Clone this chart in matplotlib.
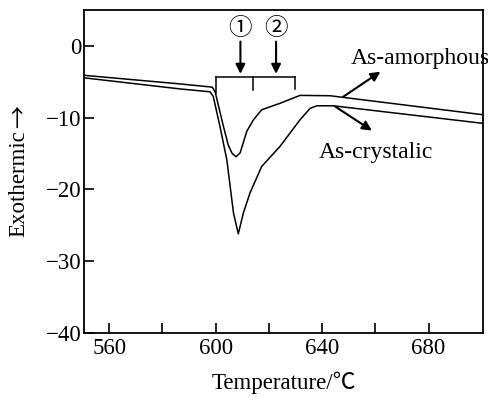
import matplotlib.pyplot as plt
import numpy as np

plt.rcParams['font.family'] = ['Liberation Serif', 'Noto Sans CJK SC', 'DejaVu Sans']

# As-amorphous DSC trace (upper curve, shallow peak)
amor_t = [550.5, 586.6, 598.7, 599.8, 602.9, 604.7, 606.2, 607.7, 609.2, 611.7,
          614.2, 617.3, 624.2, 631.7, 643.0, 700.5]
amor_q = [-4.1, -5.3, -5.75, -6.4, -11.2, -13.8, -15.0, -15.45, -14.9, -11.9,
          -10.3, -8.9, -8.0, -6.9, -6.95, -9.6]

# As-crystalic DSC trace (lower curve, deep peak)
cryst_t = [550.5, 586.6, 597.9, 599.1, 601.6, 604.2, 606.7, 608.5, 610.4, 612.9,
           617.3, 624.2, 631.7, 635.5, 638.0, 644.2, 700.5]
cryst_q = [-4.45, -6.0, -6.4, -7.05, -11.2, -15.9, -23.3, -26.2, -23.3, -20.5,
           -16.8, -14.0, -10.3, -8.7, -8.35, -8.35, -10.8]

# bracket marking stages 1 and 2
brk_x = [600.1, 614.2, 629.7]
brk_y = -4.35
brk_end = [-6.5, -6.1, -6.0]
stage_labels = ['①', '②']
stage_x = [609.3, 622.7]

fig = plt.figure(figsize=(4.88, 4.01), dpi=100)
ax = fig.add_axes([0.172, 0.17, 0.818, 0.805])

ax.plot(amor_t, amor_q, color='black', lw=1.1)
ax.plot(cryst_t, cryst_q, color='black', lw=1.1)

ax.plot([brk_x[0], brk_x[-1]], [brk_y, brk_y], color='black', lw=1.1)
for bx, be in zip(brk_x, brk_end):
    ax.plot([bx, bx], [brk_y, be], color='black', lw=1.1)

arrow = dict(arrowstyle='-|>', color='black', lw=1.5, mutation_scale=14, shrinkA=0, shrinkB=0)
for lab, sx in zip(stage_labels, stage_x):
    ax.annotate('', xy=(sx, -3.9), xytext=(sx, 0.6), arrowprops=arrow)
    ax.text(sx, 2.4, lab, ha='center', va='center', fontsize=17,
            family=['Noto Sans CJK SC', 'DejaVu Sans'], fontweight='light')

ax.annotate('', xy=(661.9, -3.6), xytext=(647.9, -7.1), arrowprops=arrow)
ax.text(650.6, -1.7, 'As-amorphous', ha='left', va='center', fontsize=17, clip_on=False)
ax.annotate('', xy=(658.7, -11.8), xytext=(644.9, -8.45), arrowprops=arrow)
ax.text(638.6, -14.9, 'As-crystalic', ha='left', va='center', fontsize=17)

ax.set_xlim(550.5, 700.5)
ax.set_ylim(-40, 5)
ax.set_xticks([560, 600, 640, 680])
ax.set_xticks([580, 620, 660], minor=True)
ax.set_yticks([0, -10, -20, -30, -40])
ax.tick_params(axis='both', which='both', direction='in', length=7, width=1.2,
               labelsize=16.5, top=False, right=False)
ax.tick_params(axis='x', pad=4)
ax.tick_params(axis='y', pad=2)
for s in ax.spines.values():
    s.set_linewidth(1.3)

ax.set_xlabel('Temperature/℃', fontsize=16.5, labelpad=9)

# y label: serif word plus a full-width arrow
fig.text(19 / 488, 1 - 184 / 401, 'Exothermic', rotation=90, ha='center', va='center', fontsize=16.5)
fig.text(19 / 488, 1 - 117 / 401, '→', rotation=90, ha='center', va='center', fontsize=16.5,
         family=['Noto Sans CJK SC', 'DejaVu Sans'], fontweight='light')

fig.savefig('out.png', dpi=100)
